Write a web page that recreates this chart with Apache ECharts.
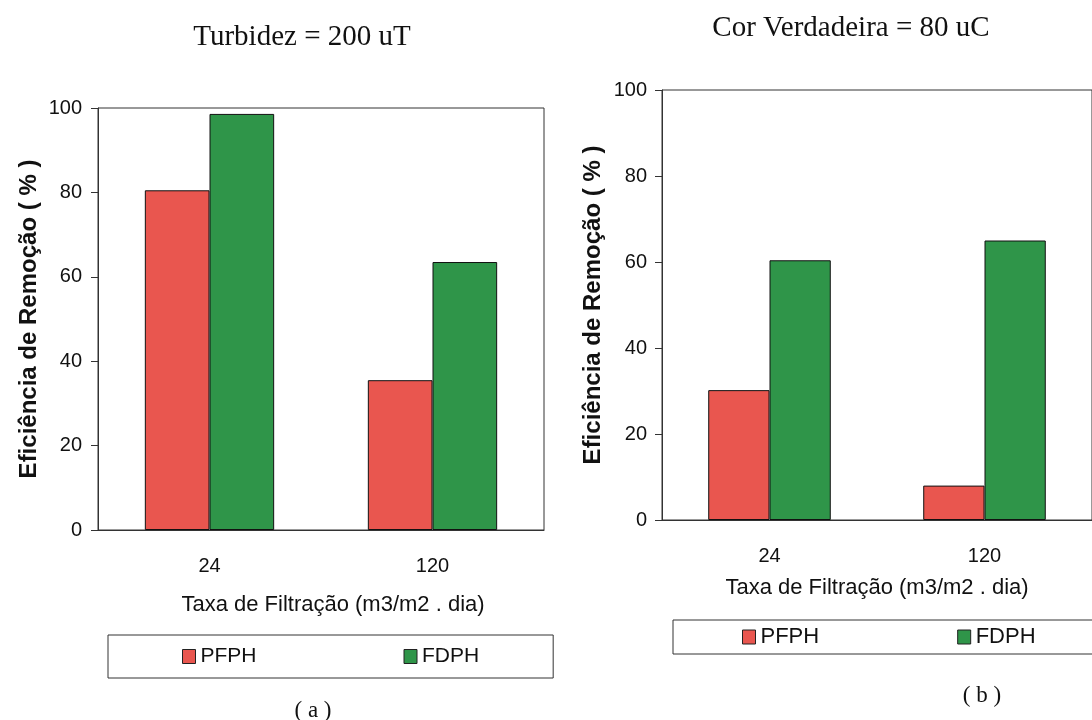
<!DOCTYPE html>
<html>
<head>
<meta charset="utf-8">
<script src="https://cdn.jsdelivr.net/npm/echarts@6/dist/echarts.min.js"></script>
<style>
  html, body { margin: 0; padding: 0; background: #fff; }
  #chart { width: 1092px; height: 720px; }
</style>
</head>
<body>
<div id="chart"></div>
<script>
// taxa de filtracao (m3/m2 . dia)
var categories = ['24', '120'];
var seriesNames = ['PFPH', 'FDPH'];

// (a) Turbidez = 200 uT
var turbidezPFPH = [80.5, 35.5];
var turbidezFDPH = [98.6, 63.5];

// (b) Cor Verdadeira = 80 uC
var corPFPH = [30.2, 8];
var corFDPH = [60.4, 65];

var yTicks = { min: 0, max: 100, interval: 20 };

var RED = '#E9564F';
var GREEN = '#2F9549';
var INK = '#111';
var SANS = '"Liberation Sans", Arial, sans-serif';
var SERIF = '"Liberation Serif", "Times New Roman", serif';

function xAxisFor(gridIndex, gap, namePad) {
    return {
        type: 'category',
        gridIndex: gridIndex,
        data: categories,
        name: 'Taxa de Filtração (m3/m2 . dia)',
        nameLocation: 'middle',
        nameGap: gap,
        nameTextStyle: { fontFamily: SANS, fontSize: 22, color: INK, padding: namePad },
        axisLine: { lineStyle: { color: '#333', width: 1 } },
        axisTick: { length: 7, lineStyle: { color: '#333' } },
        axisLabel: { margin: 26, fontFamily: SANS, fontSize: 20, color: INK },
        splitLine: { show: false }
    };
}

function yAxisFor(gridIndex, gap, margin) {
    return {
        type: 'value',
        gridIndex: gridIndex,
        min: yTicks.min,
        max: yTicks.max,
        interval: yTicks.interval,
        name: 'Eficiência de Remoção ( % )',
        nameLocation: 'middle',
        nameGap: gap,
        nameTextStyle: { fontFamily: SANS, fontSize: 24, fontWeight: 'bold', color: INK },
        axisLine: { show: true, lineStyle: { color: '#333', width: 1 } },
        axisTick: { show: true, length: 7, lineStyle: { color: '#333' } },
        axisLabel: { margin: margin, fontFamily: SANS, fontSize: 20, color: INK },
        splitLine: { show: false }
    };
}

function barSeries(name, data, color, idx) {
    return {
        name: name,
        type: 'bar',
        xAxisIndex: idx,
        yAxisIndex: idx,
        data: data,
        barGap: '0%',
        barCategoryGap: idx === 0 ? '42%' : '43%',
        itemStyle: { color: color, borderColor: '#111', borderWidth: 1 },
        emphasis: { disabled: true }
    };
}

var chart = echarts.init(document.getElementById('chart'));
chart.setOption({
    backgroundColor: '#fff',
    animation: false,
    title: [
        { text: 'Turbidez = 200 uT', left: 302, top: 23, textAlign: 'center', padding: 0,
          textStyle: { fontFamily: SERIF, fontSize: 29, fontWeight: 'normal', color: INK } },
        { text: 'Cor Verdadeira = 80 uC', left: 851, top: 14, textAlign: 'center', padding: 0,
          textStyle: { fontFamily: SERIF, fontSize: 29, fontWeight: 'normal', color: INK } },
        { text: '( a )', left: 313, top: 699, textAlign: 'center', padding: 0,
          textStyle: { fontFamily: SERIF, fontSize: 23, fontWeight: 'normal', color: INK } },
        { text: '( b )', left: 982, top: 684, textAlign: 'center', padding: 0,
          textStyle: { fontFamily: SERIF, fontSize: 23, fontWeight: 'normal', color: INK } }
    ],
    legend: [
        {
            data: seriesNames,
            left: 108, top: 635,
            orient: 'horizontal',
            icon: 'rect',
            padding: [11, 74, 11, 74],
            itemGap: 147,
            itemWidth: 13, itemHeight: 14,
            borderColor: '#333', borderWidth: 1,
            itemStyle: { borderColor: '#222', borderWidth: 1 },
            textStyle: { fontFamily: SANS, fontSize: 21, color: INK },
            selectedMode: false
        },
        {
            data: seriesNames,
            left: 673, top: 620,
            width: 330,
            orient: 'horizontal',
            icon: 'rect',
            padding: [6, 80, 6, 69],
            itemGap: 138,
            itemWidth: 13, itemHeight: 14,
            borderColor: '#333', borderWidth: 1,
            itemStyle: { borderColor: '#222', borderWidth: 1 },
            textStyle: { fontFamily: SANS, fontSize: 22, color: INK },
            selectedMode: false
        }
    ],
    grid: [
        { left: 98, top: 108, width: 446, height: 422, show: true, borderColor: '#333', borderWidth: 1, backgroundColor: 'transparent' },
        { left: 662, top: 90, width: 440, height: 430, show: true, borderColor: '#333', borderWidth: 1, backgroundColor: 'transparent' }
    ],
    xAxis: [xAxisFor(0, 64, [0, 0, 0, 24]), xAxisFor(1, 57, [0, 0, 0, 0])],
    yAxis: [yAxisFor(0, 57, 16), yAxisFor(1, 57, 15)],
    series: [
        barSeries('PFPH', turbidezPFPH, RED, 0),
        barSeries('FDPH', turbidezFDPH, GREEN, 0),
        barSeries('PFPH', corPFPH, RED, 1),
        barSeries('FDPH', corFDPH, GREEN, 1)
    ]
});
</script>
</body>
</html>
